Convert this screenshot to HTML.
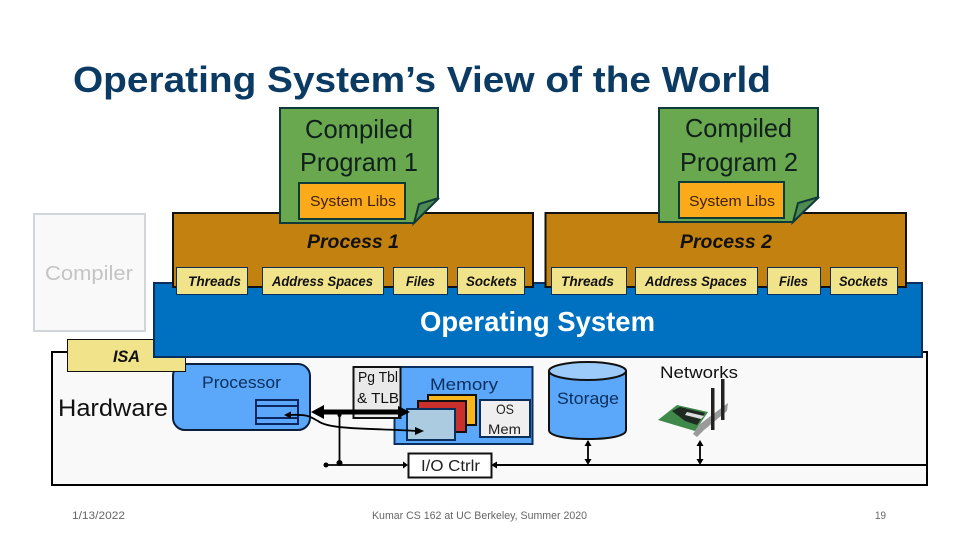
<!DOCTYPE html>
<html><head><meta charset="utf-8"><style>
html,body{margin:0;padding:0;background:#fff;width:960px;height:540px;overflow:hidden}
svg{display:block;position:absolute;left:0;top:0}
text{font-family:"Liberation Sans",sans-serif}
</style></head><body>
<svg width="960" height="540" viewBox="0 0 960 540" xmlns="http://www.w3.org/2000/svg">
<rect width="960" height="540" fill="#fff"/>
<text x="73" y="92" font-size="36" font-weight="bold" fill="#0b3a63" textLength="698" lengthAdjust="spacingAndGlyphs">Operating System’s View of the World</text>

<rect x="34" y="214" width="111" height="117" fill="#f9f9f9" stroke="#d2d5da" stroke-width="2"/>
<text x="45" y="280" font-size="20" fill="#c4c4c4" textLength="88" lengthAdjust="spacingAndGlyphs">Compiler</text>

<rect x="52" y="352" width="875" height="133" fill="#f9f9f9" stroke="#000" stroke-width="2"/>

<!-- Processor -->
<rect x="173" y="364" width="137" height="66" rx="12" fill="#5ba8fb" stroke="#0b1f3c" stroke-width="2"/>
<text x="202" y="388" font-size="17" fill="#0b2f5c" textLength="79" lengthAdjust="spacingAndGlyphs">Processor</text>
<g fill="#5ba8fb" stroke="#0b2660" stroke-width="2">
<rect x="256" y="400" width="42" height="24"/>
<path d="M256 406H298M256 418H298" fill="none"/>
</g>

<!-- ISA, behind the OS block -->
<rect x="67.500" y="339.500" width="118" height="32" fill="#f0e38a" stroke="#111" stroke-width="1"/>
<text x="113" y="362" font-size="17" font-weight="bold" font-style="italic" fill="#111" textLength="27" lengthAdjust="spacingAndGlyphs">ISA</text>
<text x="58" y="416" font-size="24" fill="#111" textLength="110" lengthAdjust="spacingAndGlyphs">Hardware</text>

<!-- OS, then processes on top -->
<rect x="154" y="283" width="768" height="74" fill="#0070c0" stroke="#0b2f5c" stroke-width="2"/>
<rect x="173" y="213" width="360" height="74" fill="#c38110" stroke="#111" stroke-width="2"/>
<rect x="545.500" y="213" width="360.500" height="74" fill="#c38110" stroke="#111" stroke-width="2"/>

<text x="307" y="248" font-size="19" font-weight="bold" font-style="italic" fill="#111" textLength="92" lengthAdjust="spacingAndGlyphs">Process 1</text>
<text x="680" y="248" font-size="19" font-weight="bold" font-style="italic" fill="#111" textLength="92" lengthAdjust="spacingAndGlyphs">Process 2</text>

<g fill="#f0e38a" stroke="#0b2f5c" stroke-width="1">
<rect x="176.500" y="267.500" width="71" height="27"/>
<rect x="262.500" y="267.500" width="121" height="27"/>
<rect x="393.500" y="267.500" width="54" height="27"/>
<rect x="457.500" y="267.500" width="67" height="27"/>
<rect x="551.500" y="267.500" width="75" height="27"/>
<rect x="635.500" y="267.500" width="122" height="27"/>
<rect x="767.500" y="267.500" width="53" height="27"/>
<rect x="830.500" y="267.500" width="67" height="27"/>
</g>
<g font-size="14" font-weight="bold" font-style="italic" fill="#111">
<text x="188" y="286" textLength="53" lengthAdjust="spacingAndGlyphs">Threads</text>
<text x="272" y="286" textLength="101" lengthAdjust="spacingAndGlyphs">Address Spaces</text>
<text x="406" y="286" textLength="29" lengthAdjust="spacingAndGlyphs">Files</text>
<text x="466" y="286" textLength="51" lengthAdjust="spacingAndGlyphs">Sockets</text>
<text x="561" y="286" textLength="53" lengthAdjust="spacingAndGlyphs">Threads</text>
<text x="645" y="286" textLength="102" lengthAdjust="spacingAndGlyphs">Address Spaces</text>
<text x="779" y="286" textLength="29" lengthAdjust="spacingAndGlyphs">Files</text>
<text x="839" y="286" textLength="49" lengthAdjust="spacingAndGlyphs">Sockets</text>
</g>
<text x="420" y="331" font-size="28" font-weight="bold" fill="#fff" textLength="235" lengthAdjust="spacingAndGlyphs">Operating System</text>

<!-- Compiled programs -->
<g stroke="#0f3a3a" stroke-width="2" stroke-linejoin="miter">
<path d="M280 108H438V198L414 223H280Z" fill="#6aa84f"/>
<path d="M414 223L419 204L439 198Z" fill="#4f8a52"/>
<path d="M659 108H818V197L793 222H659Z" fill="#6aa84f"/>
<path d="M793 222L798 203L819 197Z" fill="#4f8a52"/>
<rect x="299" y="183" width="106" height="36" fill="#fbab1a"/>
<rect x="679" y="182" width="105" height="36" fill="#fbab1a"/>
</g>
<g fill="#10201c" font-size="26">
<text x="305" y="138" textLength="108" lengthAdjust="spacingAndGlyphs">Compiled</text>
<text x="300" y="171" textLength="118" lengthAdjust="spacingAndGlyphs">Program 1</text>
<text x="685" y="137" textLength="107" lengthAdjust="spacingAndGlyphs">Compiled</text>
<text x="680" y="171" textLength="118" lengthAdjust="spacingAndGlyphs">Program 2</text>
</g>
<g fill="#402010" font-size="14.500">
<text x="310" y="206" textLength="86" lengthAdjust="spacingAndGlyphs">System Libs</text>
<text x="689" y="206" textLength="86" lengthAdjust="spacingAndGlyphs">System Libs</text>
</g>

<!-- Memory -->
<rect x="394.500" y="367" width="138" height="77" fill="#5ba8fb" stroke="#0b2f5c" stroke-width="2"/>
<rect x="353.500" y="367" width="47" height="51" fill="#e9e9e9" stroke="#111" stroke-width="2"/>
<text x="358" y="382" font-size="15" fill="#111" textLength="40" lengthAdjust="spacingAndGlyphs">Pg Tbl</text>
<text x="357" y="403" font-size="15" fill="#111" textLength="42" lengthAdjust="spacingAndGlyphs">&amp; TLB</text>
<text x="430" y="390" font-size="17" fill="#0b2f5c" textLength="68" lengthAdjust="spacingAndGlyphs">Memory</text>
<rect x="428" y="395" width="48" height="30" fill="#f9b61c" stroke="#111" stroke-width="2"/>
<rect x="418" y="401" width="48" height="31" fill="#c9302c" stroke="#111" stroke-width="2"/>
<rect x="407" y="409" width="48" height="31" fill="#aacbe0" stroke="#0b2f5c" stroke-width="2"/>
<rect x="480" y="400" width="50" height="37" fill="#efefef" stroke="#0b2f5c" stroke-width="2"/>
<text x="496" y="414" font-size="14" fill="#222" textLength="18" lengthAdjust="spacingAndGlyphs">OS</text>
<text x="488" y="434" font-size="14" fill="#222" textLength="33" lengthAdjust="spacingAndGlyphs">Mem</text>

<!-- Storage -->
<path d="M549 371V430C549 436 566 439 588 439C610 439 626 436 626 430V371" fill="#5ba8fb" stroke="#111" stroke-width="2"/>
<ellipse cx="587.500" cy="371" rx="38.500" ry="9" fill="#9ccbfa" stroke="#111" stroke-width="2"/>
<text x="557" y="404" font-size="17" fill="#0b2f5c" textLength="62" lengthAdjust="spacingAndGlyphs">Storage</text>

<!-- Networks -->
<text x="660" y="378" font-size="17" fill="#111" textLength="78" lengthAdjust="spacingAndGlyphs">Networks</text>
<path d="M693 434L700 424L728 403L727 411L704 430L697 437Z" fill="#9a9a9a"/>
<path d="M658 420L677 405L708 412L695 431Z" fill="#3f8a4a"/>
<path d="M672 411L680 407L705 413L697 425L685 421Z" fill="#1f2a22"/>
<path d="M687 412L704 416L701 419L685 415Z" fill="#ddd"/>
<rect x="711" y="388" width="3.500" height="42" fill="#222"/>
<rect x="721" y="379" width="3.500" height="41" fill="#222"/>

<!-- Buses -->
<g stroke="#000" fill="#000">
<line x1="320" y1="412" x2="402" y2="412" stroke-width="5"/>
<path d="M311 412L324 405V419Z" stroke="none"/>
<path d="M410 412L398 406V418Z" stroke="none"/>
<path d="M339.500 412V465" stroke-width="1.800" fill="none"/>
<path d="M326 465H406" stroke-width="1.800" fill="none"/>
<circle cx="339.500" cy="463" r="3" stroke="none"/>
<circle cx="339.500" cy="415" r="2" stroke="none"/>
<circle cx="326" cy="465" r="2.500" stroke="none"/>
<path d="M408 465L403 461.500V468.500Z" stroke="none"/>
<path d="M494 465H927" stroke-width="2" fill="none"/>
<path d="M491 465L497 461.500V468.500Z" stroke="none"/>
<path d="M588 441V463" stroke-width="1.800" fill="none"/>
<path d="M588 440L584.500 446H591.500Z" stroke="none"/>
<path d="M588 465L584.500 459H591.500Z" stroke="none"/>
<path d="M700 442V463" stroke-width="1.800" fill="none"/>
<path d="M700 440L696.500 446H703.500Z" stroke="none"/>
<path d="M700 465L696.500 459H703.500Z" stroke="none"/>
<path d="M288 415C310 414 310 417 318 421C330 430 370 428 418 431" stroke-width="1.800" fill="none"/>
<path d="M284 415L291 411.500V418.500Z" stroke="none"/>
<path d="M424 431L415 427V435Z" stroke="none"/>
</g>

<rect x="408.500" y="453.500" width="83" height="24" fill="#fff" stroke="#111" stroke-width="2"/>
<text x="421" y="471" font-size="16" fill="#222" textLength="59" lengthAdjust="spacingAndGlyphs">I/O Ctrlr</text>

<g font-size="11" fill="#666">
<text x="72" y="519" textLength="53" lengthAdjust="spacingAndGlyphs">1/13/2022</text>
<text x="372" y="519" textLength="215" lengthAdjust="spacingAndGlyphs">Kumar CS 162 at UC Berkeley, Summer 2020</text>
<text x="875" y="519" textLength="11" lengthAdjust="spacingAndGlyphs">19</text>
</g>
</svg>
</body></html>
